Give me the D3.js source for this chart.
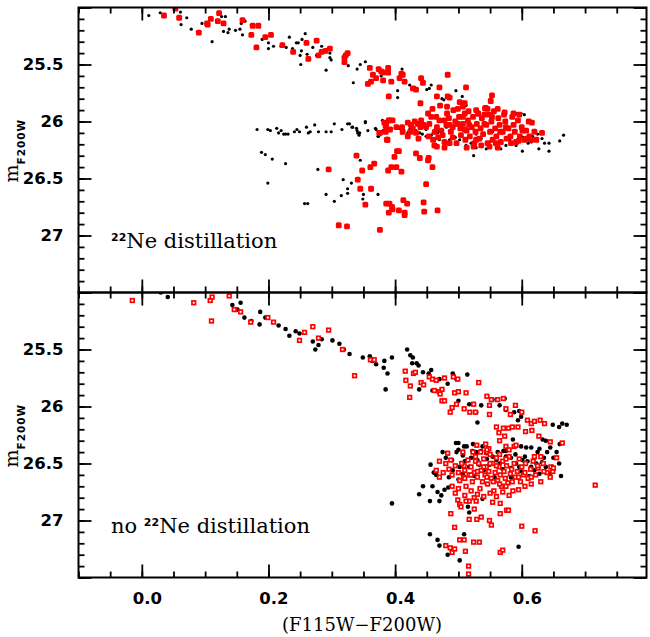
<!DOCTYPE html>
<html>
<head>
<meta charset="utf-8">
<script src="https://cdn.jsdelivr.net/npm/d3@7/dist/d3.min.js"></script>
<style>
  body { margin: 0; background: #fff; }
  svg { display: block; }
  .axis line { stroke: #000; stroke-width: 1.8px; }
  .axis text { font-family: "DejaVu Sans", sans-serif; font-weight: bold; font-size: 16.5px; fill: #000; }
  .frame { fill: none; stroke: #000; stroke-width: 2px; }
  .serif { font-family: "DejaVu Serif", serif; }
  .sup { font-family: "DejaVu Sans", sans-serif; font-weight: bold; }
</style>
</head>
<body>
<svg id="chart" width="650" height="637"></svg>
<script>
// Axis extents and tick labels
const colorDomain = [-0.1, 0.797];
const magDomain = [25.0, 27.5];
const colorTicks = [0.0, 0.2, 0.4, 0.6];
const magTicks = [25.5, 26, 26.5, 27];
const xTitle = "(F115W\u2212F200W)";
const yTitleMain = "m";
const yTitleSub = "F200W";
const panelLabels = [["", "22", "Ne distillation"], ["no ", "22", "Ne distillation"]];

// Top panel (22Ne distillation): [colour, magnitude]
const topBlack = [
  [0.011,25.07],[0.029,25.046],[0.061,25.04],[0.062,25.15],[0.071,25.09],[0.078,25.19],[0.095,25.14],
  [0.111,25.30],[0.126,25.08],[0.132,25.08],[0.129,25.21],[0.136,25.22],[0.138,25.19],[0.148,25.20],
  [0.155,25.19],[0.157,25.14],[0.159,25.24],[0.163,25.12],[0.190,25.28],[0.200,25.31],[0.200,25.36],
  [0.208,25.34],[0.220,25.34],[0.228,25.35],[0.233,25.26],[0.238,25.36],[0.244,25.31],[0.247,25.31],
  [0.252,25.38],[0.253,25.28],[0.258,25.23],[0.250,25.42],[0.251,25.50],[0.261,25.41],[0.270,25.35],
  [0.276,25.42],[0.284,25.34],[0.291,25.55],[0.297,25.40],[0.297,25.44],[0.299,25.46],[0.326,25.51],
  [0.340,25.54],[0.334,25.66],[0.353,25.476],[0.345,25.50],[0.378,25.60],[0.383,25.64],[0.411,25.54],
  [0.413,25.58],[0.404,25.73],[0.404,25.79],[0.423,25.68],[0.431,25.70],[0.450,25.72],[0.454,25.71],
  [0.457,25.68],[0.474,25.80],[0.477,25.81],[0.496,25.73],[0.506,25.78],[0.508,25.83],[0.512,25.86],
  [0.328,26.02],[0.333,26.05],[0.340,26.08],[0.343,26.12],[0.353,26.00],[0.370,26.07],[0.374,26.13],
  [0.381,26.08],[0.389,26.08],[0.407,26.06],[0.410,26.09],[0.424,26.06],[0.436,26.10],[0.443,26.11],
  [0.457,26.12],[0.464,26.10],[0.470,26.16],[0.478,26.18],[0.486,26.16],[0.495,26.14],[0.502,26.16],
  [0.512,26.21],[0.520,26.19],[0.524,26.30],[0.528,26.23],[0.536,26.22],[0.544,26.24],[0.549,26.18],
  [0.560,26.23],[0.567,26.24],[0.575,26.21],[0.581,26.16],[0.591,25.93],[0.599,25.93],[0.604,25.94],
  [0.591,26.21],[0.601,26.26],[0.610,26.19],[0.615,26.18],[0.617,26.13],[0.627,26.24],[0.632,26.15],
  [0.636,26.19],[0.643,26.19],[0.643,26.26],[0.660,26.17],[0.666,26.12],[0.625,26.11],[0.612,26.15],
  [0.602,26.14],[0.567,26.09],[0.554,26.09],[0.536,26.15],[0.528,26.11],[0.512,26.09],[0.496,26.03],
  [0.481,26.05],[0.467,26.10],[0.449,26.13],[0.433,26.08],
  [0.182,26.07],[0.199,26.07],[0.203,26.08],[0.213,26.06],[0.216,26.10],[0.220,26.08],[0.224,26.11],
  [0.227,26.11],[0.231,26.11],[0.241,26.09],[0.245,26.07],[0.249,26.09],[0.260,26.05],[0.263,26.10],
  [0.266,26.09],[0.273,26.03],[0.279,26.09],[0.291,26.09],[0.299,26.09],[0.304,26.02],[0.316,26.07],
  [0.325,26.02],[0.332,26.05],[0.339,26.06],[0.341,26.10],[0.344,26.10],[0.353,26.01],[0.357,26.08],
  [0.369,26.06],[0.373,26.13],[0.380,25.99],[0.386,26.07],[0.394,26.06],[0.407,26.06],[0.410,26.10],
  [0.420,26.10],[0.428,26.06],[0.439,26.10],[0.449,26.07],[0.460,26.10],[0.470,26.08],
  [0.189,26.27],[0.195,26.29],[0.206,26.33],[0.227,26.37],[0.199,26.54],[0.278,26.42],[0.318,26.51],
  [0.331,26.54],[0.325,26.59],[0.345,26.34],[0.291,26.64],[0.304,26.70],[0.315,26.65],[0.325,26.63],
  [0.349,26.68],[0.350,26.64],[0.257,26.72],[0.262,26.72],[0.362,26.60],[0.373,26.64]
];
const topRed = [
  [0.035,25.07],[0.053,25.01],[0.059,25.09],[0.090,25.22],[0.103,25.14],[0.104,25.15],[0.109,25.10],
  [0.120,25.12],[0.122,25.05],[0.129,25.14],[0.159,25.11],[0.173,25.24],[0.175,25.16],[0.184,25.16],
  [0.181,25.35],[0.195,25.26],[0.204,25.24],[0.222,25.33],[0.239,25.39],[0.260,25.31],[0.263,25.45],
  [0.276,25.29],[0.279,25.42],[0.284,25.39],[0.290,25.38],[0.297,25.36],[0.320,25.44],[0.322,25.42],
  [0.325,25.40],[0.320,25.48],
  [0.360,25.53],[0.365,25.59],[0.370,25.62],[0.357,25.67],[0.362,25.65],[0.374,25.54],[0.378,25.56],
  [0.381,25.57],[0.389,25.53],[0.389,25.57],[0.394,25.65],[0.381,25.64],[0.407,25.62],[0.412,25.59],
  [0.415,25.65],[0.410,25.58],[0.428,25.71],[0.433,25.72],[0.441,25.62],[0.444,25.66],[0.440,25.84],
  [0.390,25.78],[0.483,25.59],[0.470,25.70],[0.483,25.78],[0.466,25.78],[0.486,25.79],[0.502,25.83],
  [0.510,25.84],[0.512,25.70],[0.553,25.77],[0.551,25.82],[0.543,25.88],[0.546,25.89],[0.562,25.89],
  [0.573,25.92],[0.531,25.93],[0.541,25.94],[0.459,25.89],[0.471,25.86],[0.482,25.87],[0.499,25.89],
  [0.507,25.87],
  [0.383,26.01],[0.390,25.99],[0.392,26.07],[0.385,26.09],[0.376,26.10],[0.387,26.16],[0.411,26.05],
  [0.420,26.01],[0.425,26.03],[0.431,26.00],[0.436,26.02],[0.440,26.05],[0.445,26.03],[0.433,26.10],
  [0.424,26.09],[0.437,26.15],[0.452,25.93],[0.457,25.96],[0.454,26.02],[0.453,26.13],[0.460,26.16],
  [0.462,26.21],[0.466,26.05],[0.470,25.99],[0.473,26.08],[0.475,26.12],[0.478,26.18],[0.482,25.93],
  [0.485,25.97],[0.486,26.03],[0.488,26.09],[0.491,26.14],[0.492,25.90],[0.495,26.00],[0.497,26.19],
  [0.501,25.96],[0.503,26.06],[0.504,26.12],[0.507,26.02],[0.510,25.93],[0.511,26.16],[0.513,26.08],
  [0.515,25.99],[0.516,25.91],[0.518,26.13],[0.521,26.05],[0.523,25.96],[0.525,26.19],[0.527,26.09],
  [0.529,26.02],[0.531,25.93],[0.533,26.15],[0.535,26.06],[0.537,25.97],[0.539,26.11],[0.542,25.885],
  [0.544,26.03],[0.546,26.19],[0.548,25.94],[0.550,26.09],[0.552,26.00],[0.554,26.16],[0.556,25.91],
  [0.558,26.06],[0.560,26.13],[0.563,25.97],[0.565,26.03],[0.567,26.18],[0.570,26.09],[0.572,25.94],
  [0.574,26.00],[0.576,26.15],[0.579,26.06],[0.582,26.13],[0.585,25.96],[0.587,26.03],[0.589,26.09],
  [0.591,26.18],[0.594,25.99],[0.597,26.13],[0.600,26.05],[0.604,26.16],[0.608,26.15],[0.612,26.13],
  [0.616,26.01],[0.620,26.09],[0.623,26.16],[0.632,26.10],[0.615,26.16],[0.601,26.08],[0.463,26.09],
  [0.468,26.14],[0.481,26.03],[0.486,26.19],[0.499,26.02],[0.510,26.07],[0.517,26.03],[0.528,26.16],
  [0.536,26.21],[0.541,26.02],[0.559,26.19],[0.566,26.09],[0.575,26.05],[0.583,26.19],[0.553,25.96],
  [0.528,25.90],[0.507,25.96],[0.491,26.05],[0.478,25.99],[0.465,25.96],[0.449,26.05],[0.441,25.99],
  [0.428,26.06],[0.420,26.13],[0.412,26.09],[0.402,26.05],[0.396,25.99],[0.466,26.22],[0.478,26.23],
  [0.513,26.23],[0.524,26.22],[0.549,26.22],[0.562,26.23],[0.595,26.17],[0.607,26.08],[0.611,26.00],
  [0.587,25.93],[0.596,25.94],
  [0.339,26.30],[0.295,26.42],[0.348,26.43],[0.361,26.40],[0.367,26.37],[0.341,26.51],[0.345,26.59],
  [0.362,26.59],[0.353,26.73],[0.311,26.91],[0.324,26.92],[0.376,26.95],[0.389,26.43],[0.394,26.40],
  [0.402,26.40],[0.410,26.44],[0.399,26.31],[0.403,26.26],[0.406,26.26],[0.413,26.69],[0.419,26.72],
  [0.386,26.72],[0.391,26.72],[0.395,26.75],[0.396,26.77],[0.390,26.80],[0.406,26.78],[0.415,26.80],
  [0.415,26.82],[0.433,26.28],[0.439,26.32],[0.452,26.34],[0.453,26.32],[0.459,26.40],[0.449,26.55],
  [0.445,26.71],[0.446,26.79],[0.467,26.78],[0.388,26.16],[0.375,26.10],[0.385,26.04],[0.391,25.99],
  [0.386,26.02]
];

// Bottom panel (no 22Ne distillation): [colour, magnitude]
const bottomBlack = [
  [0.030,25.00],[0.041,25.04],[0.143,25.11],[0.151,25.15],[0.156,25.09],[0.162,25.22],[0.173,25.25],
  [0.186,25.28],[0.187,25.17],[0.195,25.22],[0.216,25.29],[0.227,25.32],[0.233,25.38],[0.243,25.34],
  [0.249,25.36],[0.270,25.43],[0.274,25.50],[0.279,25.46],[0.284,25.41],[0.301,25.42],[0.312,25.45],
  [0.319,25.50],[0.328,25.54],[0.349,25.57],[0.360,25.56],[0.364,25.60],[0.370,25.63],
  [0.419,25.50],[0.424,25.55],[0.428,25.57],[0.427,25.62],[0.434,25.62],[0.437,25.64],[0.395,25.57],
  [0.383,25.60],[0.388,25.71],[0.385,25.85],[0.382,25.66],[0.457,25.68],[0.453,25.71],[0.444,25.70],
  [0.438,25.85],[0.459,25.86],[0.470,25.76],[0.483,25.80],[0.491,25.71],[0.497,25.76],[0.514,25.72],
  [0.500,25.95],[0.517,25.98],[0.536,25.99],[0.528,26.05],[0.530,26.14],[0.560,25.94],[0.573,25.93],
  [0.565,25.99],[0.575,26.03],[0.588,26.05],[0.596,26.04],[0.600,26.05],[0.599,26.09],[0.594,26.12],
  [0.649,26.16],[0.659,26.18],[0.664,26.15],[0.671,26.16],[0.633,26.29],[0.638,26.30],[0.628,26.37],
  [0.625,26.40],[0.615,26.36],[0.607,26.36],[0.599,26.35],[0.586,26.29],[0.575,26.39],[0.496,26.32],
  [0.500,26.38],[0.509,26.35],[0.523,26.33],[0.538,26.35],
  [0.500,26.32],[0.497,26.40],[0.507,26.43],[0.513,26.35],[0.522,26.39],[0.528,26.40],[0.536,26.39],
  [0.544,26.41],[0.554,26.44],[0.562,26.40],[0.571,26.39],[0.583,26.45],[0.591,26.50],[0.601,26.47],
  [0.609,26.48],[0.615,26.53],[0.623,26.50],[0.632,26.49],[0.638,26.53],[0.648,26.53],[0.659,26.50],
  [0.662,26.61],[0.644,26.59],[0.628,26.59],[0.596,26.53],[0.583,26.54],[0.565,26.50],[0.549,26.51],
  [0.533,26.51],[0.517,26.53],[0.502,26.53],[0.491,26.56],[0.507,26.59],[0.525,26.61],[0.557,26.62],
  [0.583,26.62],[0.612,26.61],[0.520,26.45],[0.530,26.47],[0.545,26.46],[0.560,26.47],[0.575,26.44],
  [0.590,26.42],[0.605,26.44],[0.620,26.45],[0.635,26.45],[0.650,26.45],[0.655,26.40],[0.660,26.33],
  [0.645,26.36],[0.640,26.40],[0.510,26.48],[0.490,26.47],[0.480,26.45],[0.475,26.40],[0.485,26.62],
  [0.500,26.64],[0.540,26.56],[0.570,26.55],[0.600,26.57],[0.620,26.56],
  [0.456,26.51],[0.461,26.58],[0.465,26.60],[0.444,26.70],[0.459,26.70],[0.467,26.75],[0.473,26.78],
  [0.470,26.83],[0.455,26.83],[0.484,26.71],[0.478,26.73],[0.395,26.85],[0.438,26.77],[0.538,26.81],
  [0.515,26.88],[0.517,26.93],[0.595,27.23],[0.455,27.12],[0.467,27.17],[0.470,27.22],[0.483,27.30],
  [0.502,27.35],[0.509,27.12]
];
const bottomRed = [
  [-0.015,25.07],[0.082,25.09],[0.108,25.07],[0.111,25.04],[0.110,25.25],[0.138,25.03],[0.146,25.15],
  [0.156,25.17],[0.172,25.26],[0.199,25.22],[0.208,25.26],[0.249,25.42],[0.257,25.35],[0.270,25.30],
  [0.279,25.40],[0.295,25.33],[0.317,25.50],[0.336,25.73],[0.361,25.59],[0.367,25.59],
  [0.416,25.69],[0.417,25.77],[0.424,25.82],[0.423,25.92],[0.429,25.71],[0.432,25.70],[0.441,25.79],
  [0.445,25.81],[0.454,25.74],[0.459,25.76],[0.465,25.77],[0.462,25.86],[0.470,25.87],[0.474,25.85],
  [0.471,25.89],[0.474,25.95],[0.478,25.95],[0.478,25.75],[0.492,25.74],[0.499,25.76],[0.487,26.05],
  [0.490,26.01],[0.494,25.88],[0.497,25.98],[0.500,25.87],[0.512,25.88],[0.509,26.02],[0.518,26.05],
  [0.524,25.98],[0.527,26.05],[0.532,25.79],[0.545,25.91],[0.552,25.94],[0.549,25.99],[0.549,26.07],
  [0.562,25.94],[0.571,25.93],[0.575,26.02],[0.582,26.07],[0.590,25.99],[0.600,26.05],[0.609,26.12],
  [0.615,26.15],[0.620,26.13],[0.629,26.12],[0.636,26.15],[0.560,26.18],[0.571,26.19],[0.579,26.19],
  [0.585,26.18],[0.594,26.18],[0.606,26.22],[0.616,26.21],[0.627,26.26],[0.645,26.31],[0.664,26.32],
  [0.655,26.45],[0.646,26.53],[0.649,26.57],[0.630,26.44],[0.620,26.44],[0.564,26.23],[0.573,26.26],
  [0.565,26.30],[0.575,26.35],[0.588,26.35],[0.591,26.34],[0.529,26.34],[0.543,26.33],[0.548,26.37],
  [0.545,26.40],[0.523,26.40],[0.527,26.48],[0.483,26.41],[0.488,26.47],[0.507,26.40],[0.509,26.52],
  [0.716,26.69],
  [0.485,26.55],[0.490,26.60],[0.495,26.52],[0.500,26.58],[0.502,26.65],[0.505,26.50],[0.508,26.62],
  [0.510,26.56],[0.512,26.70],[0.515,26.47],[0.517,26.60],[0.520,26.53],[0.522,26.66],[0.525,26.58],
  [0.527,26.44],[0.530,26.62],[0.532,26.50],[0.534,26.72],[0.536,26.56],[0.538,26.66],[0.540,26.46],
  [0.542,26.60],[0.544,26.53],[0.546,26.68],[0.548,26.57],[0.550,26.42],[0.552,26.63],[0.554,26.50],
  [0.556,26.74],[0.558,26.58],[0.560,26.45],[0.562,26.65],[0.564,26.53],[0.566,26.60],[0.568,26.70],
  [0.570,26.48],[0.572,26.57],[0.574,26.63],[0.576,26.52],[0.578,26.67],[0.580,26.44],[0.582,26.59],
  [0.584,26.55],[0.586,26.74],[0.588,26.50],[0.590,26.62],[0.593,26.57],[0.596,26.46],[0.598,26.66],
  [0.600,26.53],[0.603,26.60],[0.606,26.50],[0.610,26.63],[0.614,26.55],[0.618,26.48],[0.622,26.60],
  [0.626,26.54],[0.630,26.66],[0.634,26.50],[0.640,26.58],[0.645,26.62],[0.650,26.54],[0.490,26.70],
  [0.495,26.76],[0.500,26.72],[0.510,26.78],[0.520,26.74],[0.525,26.80],[0.530,26.77],[0.540,26.79],
  [0.550,26.76],[0.560,26.79],[0.570,26.75],[0.580,26.78],[0.595,26.73],[0.605,26.70],[0.615,26.68],
  [0.480,26.50],[0.476,26.58],[0.470,26.48],[0.465,26.56],[0.470,26.62],[0.535,26.40],[0.545,26.38],
  [0.565,26.42],[0.580,26.38],[0.575,26.46],[0.560,26.52],[0.550,26.50],[0.540,26.53],[0.530,26.57],
  [0.520,26.60],[0.510,26.63],[0.545,26.62],[0.555,26.66],[0.565,26.68],[0.575,26.70],[0.585,26.66],
  [0.595,26.62],[0.605,26.58],[0.615,26.62],[0.625,26.52],[0.635,26.57],
  [0.499,26.82],[0.502,26.86],[0.504,26.88],[0.517,26.83],[0.528,26.83],[0.525,26.90],[0.536,26.97],
  [0.517,26.99],[0.529,26.99],[0.494,27.06],[0.488,26.94],[0.512,26.83],[0.554,26.84],[0.549,27.00],
  [0.552,27.04],[0.566,26.85],[0.566,26.94],[0.576,26.91],[0.579,26.91],[0.600,27.05],[0.621,27.09],
  [0.502,27.17],[0.509,27.17],[0.524,27.19],[0.533,27.19],[0.480,27.22],[0.487,27.24],[0.490,27.28],
  [0.494,27.25],[0.511,27.27],[0.566,27.28],[0.570,27.26],[0.516,27.40],[0.516,27.47]
];

// Layout
const plotLeft = 78.5;
const plotRight = 646.5;
const panelHeight = 285;
const majorTick = 13;
const minorTick = 6;

const svg = d3.select("#chart");

const x = d3.scaleLinear().domain(colorDomain).range([plotLeft, plotRight]);

const panels = [
  { top: 7.5, black: topBlack, red: topRed, openRed: false, blackR: 1.6, label: panelLabels[0], showX: false },
  { top: 7.5 + panelHeight, black: bottomBlack, red: bottomRed, openRed: true, blackR: 2.3, label: panelLabels[1], showX: true }
];

// Draw a set of inward ticks (major + minor) using d3 axes.
function drawTicks(g, axisFn, scale, majors, minors, translate, labels, padding) {
  const minorAxis = axisFn(scale).tickValues(minors).tickSize(-minorTick).tickFormat("");
  g.append("g").attr("class", "axis").attr("transform", translate).call(minorAxis)
    .call(s => s.select(".domain").remove());

  const majorAxis = axisFn(scale).tickValues(majors).tickSize(-majorTick)
    .tickPadding(padding || 3)
    .tickFormat(labels ? labels : "");
  return g.append("g").attr("class", "axis").attr("transform", translate).call(majorAxis)
    .call(s => s.select(".domain").remove());
}

panels.forEach((p, i) => {
  const bottom = p.top + panelHeight;
  const y = d3.scaleLinear().domain(magDomain).range([p.top, bottom]);
  const g = svg.append("g").attr("class", "panel panel-" + i);

  const clipId = "clip-" + i;
  g.append("clipPath").attr("id", clipId)
    .append("rect").attr("x", plotLeft).attr("y", p.top)
    .attr("width", plotRight - plotLeft).attr("height", panelHeight);

  // Data points
  const pts = g.append("g").attr("clip-path", `url(#${clipId})`);
  pts.append("g").selectAll("circle")
    .data(p.black)
    .enter().append("circle")
      .attr("cx", d => x(d[0]))
      .attr("cy", d => y(d[1]))
      .attr("r", p.blackR)
      .attr("fill", "#000");

  if (p.openRed) {
    const s = 3.6;
    pts.append("g").selectAll("rect")
      .data(p.red)
      .enter().append("rect")
        .attr("x", d => x(d[0]) - s / 2)
        .attr("y", d => y(d[1]) - s / 2)
        .attr("width", s).attr("height", s)
        .attr("fill", "#fff")
        .attr("stroke", "#ff0000")
        .attr("stroke-width", 1.7);
  } else {
    const s = 5.8;
    pts.append("g").selectAll("rect")
      .data(p.red)
      .enter().append("rect")
        .attr("x", d => x(d[0]) - s / 2)
        .attr("y", d => y(d[1]) - s / 2)
        .attr("width", s).attr("height", s)
        .attr("rx", 1.5)
        .attr("fill", "#ff0000");
  }

  // Ticks on all four sides, pointing inward
  const xMinors = x.ticks(18);
  const yMinors = y.ticks(25);
  const yMajors = [25, 25.5, 26, 26.5, 27, 27.5];

  drawTicks(g, d3.axisTop, x, colorTicks, xMinors, `translate(0,${p.top})`);
  const xb = drawTicks(g, d3.axisBottom, x, colorTicks, xMinors, `translate(0,${bottom})`,
    p.showX ? d3.format(".1f") : null, 14.5);
  xb.selectAll("text").attr("dx", 5);

  drawTicks(g, d3.axisRight, y, yMajors, yMinors, `translate(${plotRight},0)`);
  drawTicks(g, d3.axisLeft, y, yMajors, yMinors, `translate(${plotLeft},0)`,
    d => magTicks.includes(d) ? String(d) : "", 15);

  // Frame
  g.append("rect").attr("class", "frame")
    .attr("x", plotLeft).attr("y", p.top)
    .attr("width", plotRight - plotLeft).attr("height", panelHeight);

  // Panel label
  const lab = g.append("text").attr("x", 111).attr("y", p.top + 240.5);
  if (p.label[0]) lab.append("tspan").attr("class", "serif").attr("font-size", 21).text(p.label[0]);
  lab.append("tspan").attr("class", "sup").attr("font-size", 11).attr("dy", -7).text(p.label[1]);
  lab.append("tspan").attr("class", "serif").attr("font-size", 21).attr("dy", 7).text(p.label[2]);

  // Y axis title
  const yt = g.append("text")
    .attr("transform", `translate(18,${p.top + 175}) rotate(-90)`);
  yt.append("tspan").attr("class", "serif").attr("font-size", 19).text(yTitleMain);
  yt.append("tspan").attr("class", "sup").attr("font-size", 10.5)
    .attr("letter-spacing", 1).attr("dy", 7).text(yTitleSub);
});

// X axis title
svg.append("text")
  .attr("class", "serif")
  .attr("x", 362).attr("y", 631)
  .attr("text-anchor", "middle")
  .attr("font-size", 18)
  .text(xTitle);
</script>
</body>
</html>
